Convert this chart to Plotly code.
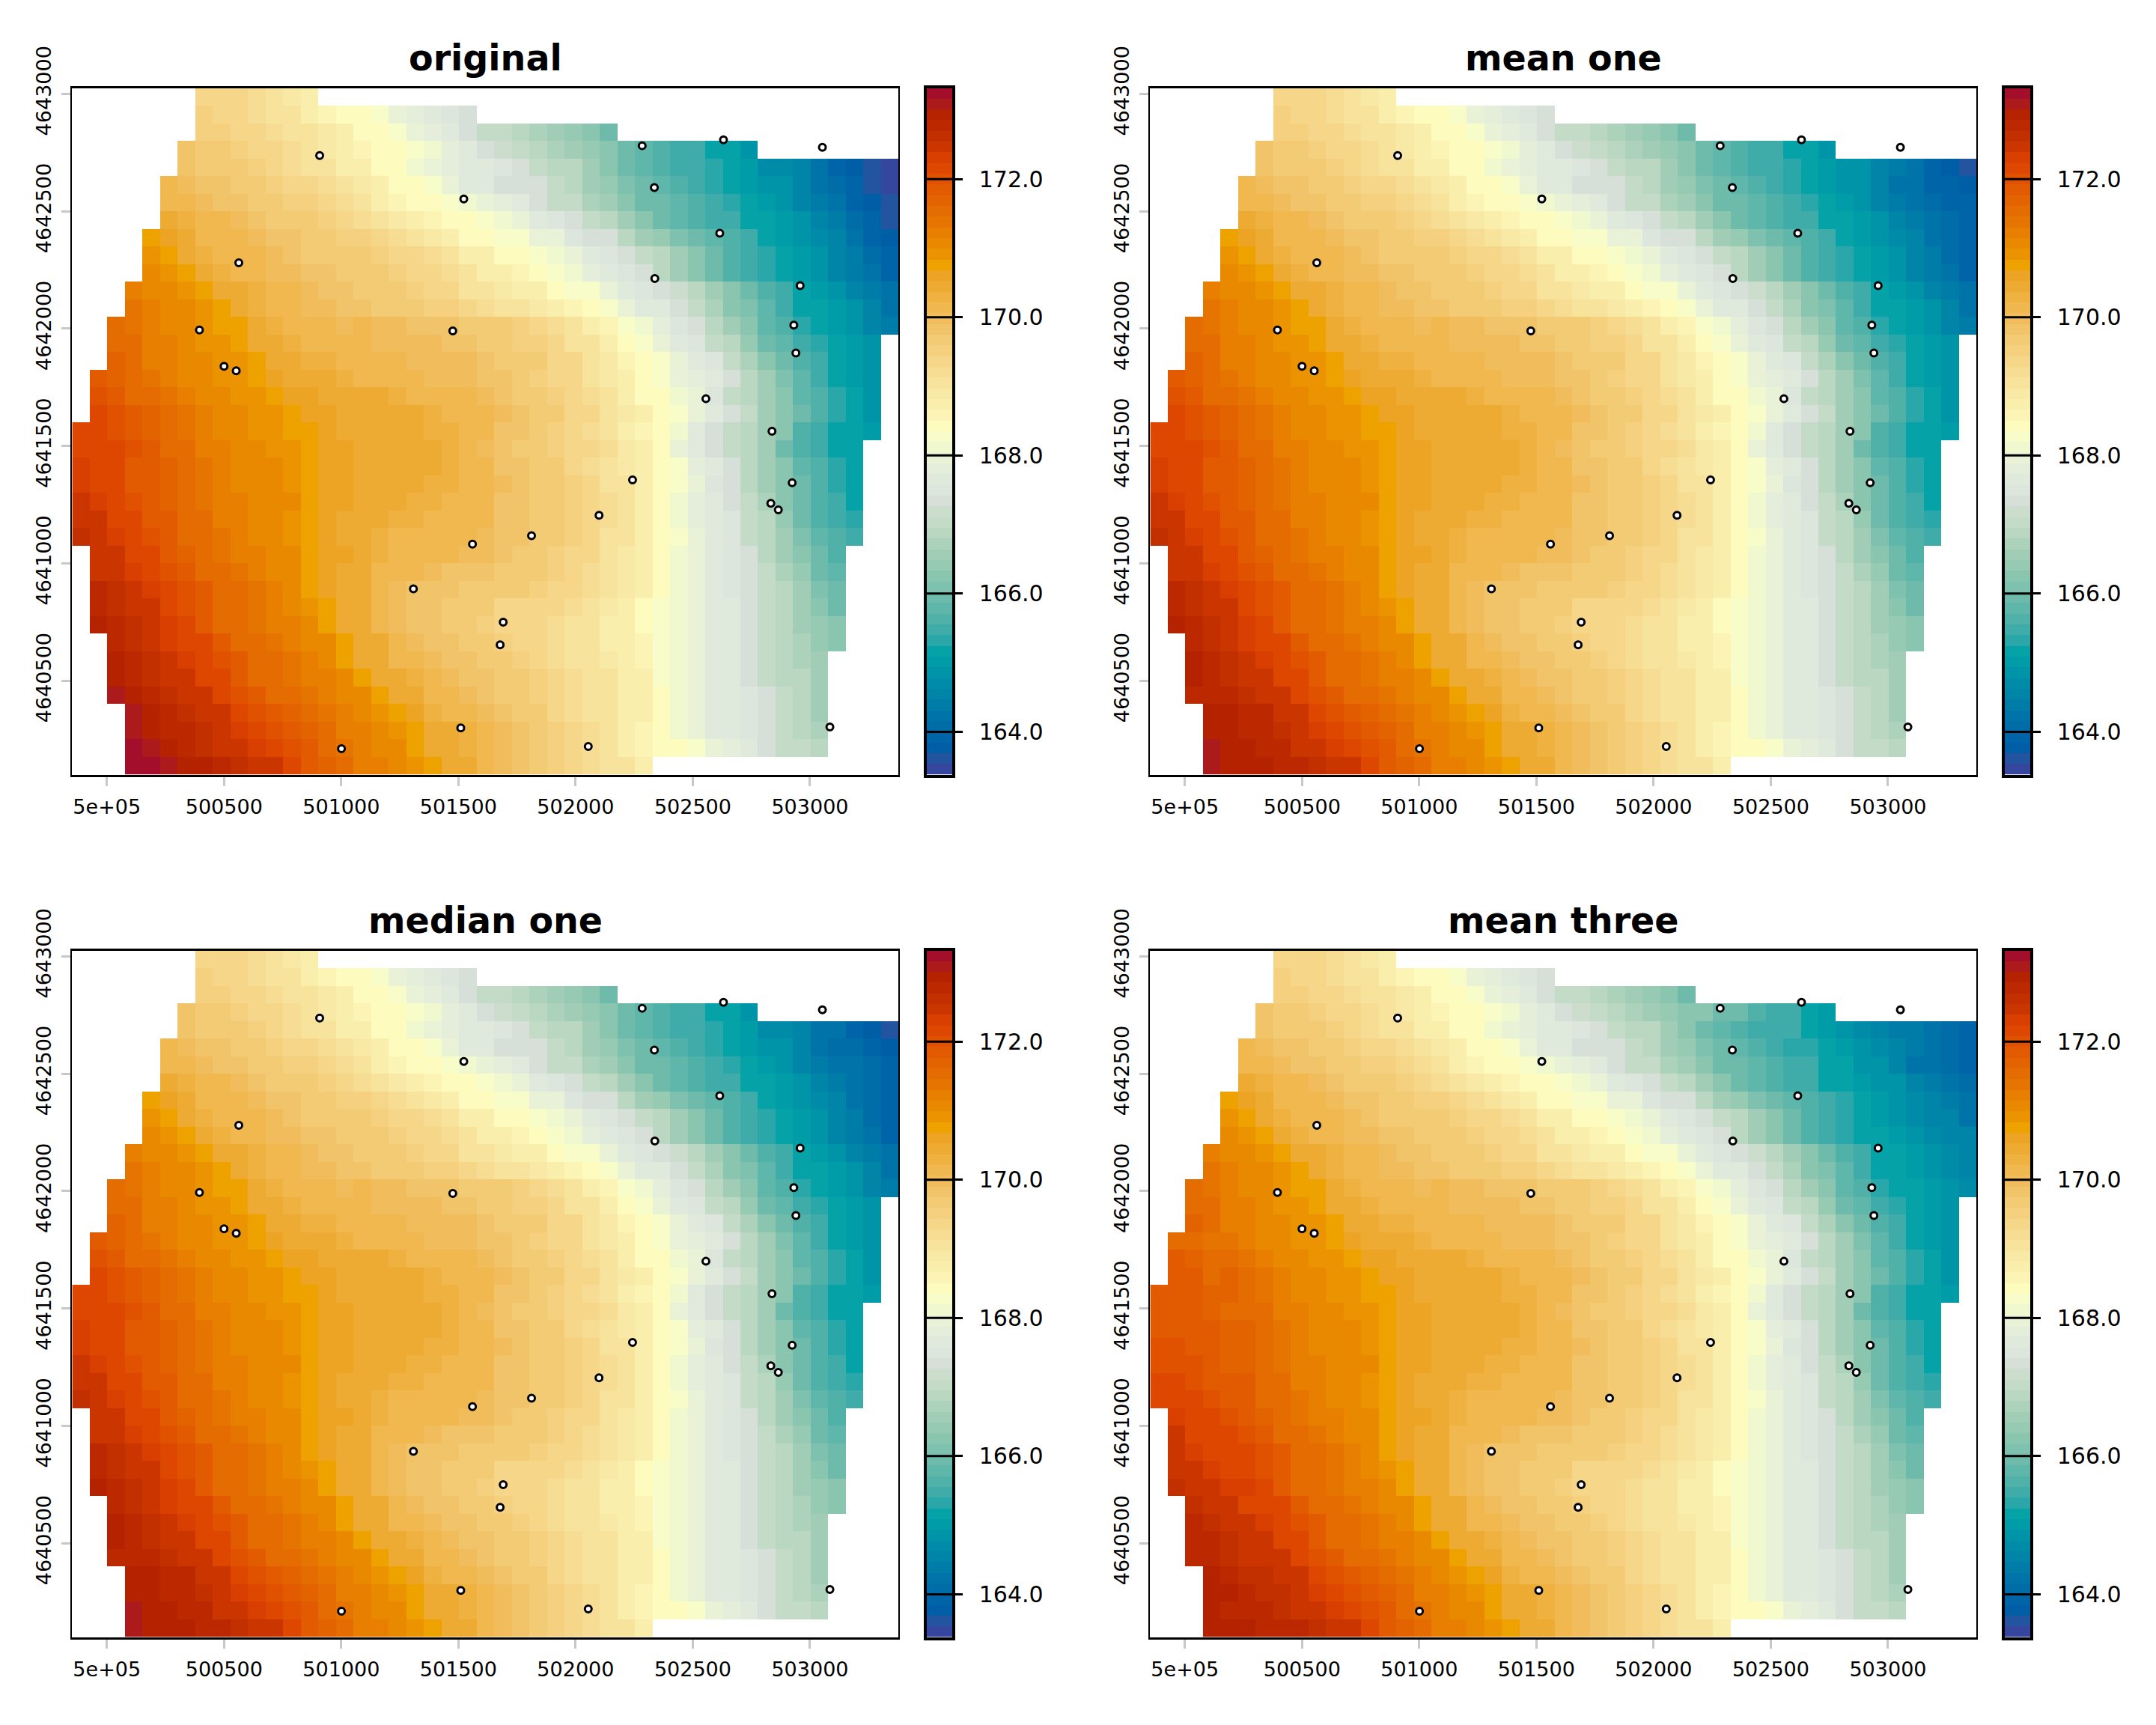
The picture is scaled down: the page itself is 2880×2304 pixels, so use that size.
import plotly.graph_objects as go

# Elevation surfaces on a 75 m raster, stored as tenths above 160 m.
# Each row (north to south) is (first filled column, cell values).
original_rows = [
 (7,[94,93,93,92,90,89,87]),
 (7,[95,94,94,92,91,90,88,86,85,84,82,80,78,76,75,73]),
 (7,[95,95,94,93,92,91,90,89,87,85,84,83,80,78,76,74,71,70,68,67,65,64,62,60]),
 (6,[98,97,96,95,94,93,92,90,89,88,86,85,84,82,81,78,76,74,72,70,69,67,66,64,63,60,58,57,55,54,52,51,49]),
 (6,[99,97,96,96,95,94,92,91,90,88,87,85,84,81,80,78,77,76,75,73,71,69,68,65,63,60,58,56,55,54,53,51,50,47,47,45,42,40,38,36,34]),
 (5,[101,100,99,98,97,96,95,94,93,92,91,89,87,85,84,82,80,77,76,74,73,73,71,69,66,64,61,59,58,56,54,53,51,50,49,48,46,43,41,39,36,34]),
 (5,[102,101,100,99,98,97,96,95,95,94,92,90,88,86,85,84,83,81,80,78,77,73,71,70,67,65,62,60,59,58,56,54,53,51,50,48,46,44,42,40,38,36]),
 (5,[104,103,102,101,100,99,97,97,96,95,94,92,90,89,87,86,85,84,82,81,79,76,75,73,70,68,65,63,60,58,57,55,54,52,51,50,48,46,44,41,39,36]),
 (4,[107,106,104,102,102,101,100,99,98,97,96,95,95,93,92,91,89,87,85,84,83,82,80,79,75,74,73,68,66,64,61,59,58,56,54,51,50,49,47,45,43,39,38]),
 (4,[109,107,105,103,102,101,101,100,99,97,97,96,96,95,94,94,92,90,88,87,85,84,83,81,79,77,75,73,71,68,65,62,60,57,55,53,51,50,48,46,44,41,40]),
 (4,[110,109,107,105,103,102,101,100,100,99,98,97,96,96,95,94,93,92,90,88,87,86,84,83,81,78,76,75,73,68,65,62,59,57,54,53,51,50,48,46,44,42,40]),
 (3,[112,111,110,109,107,105,104,103,101,101,100,99,98,97,96,96,95,94,93,91,90,89,88,87,85,83,82,79,77,75,74,72,68,66,63,60,57,55,51,50,48,46,44,43]),
 (3,[114,112,111,110,109,107,105,103,102,101,100,100,99,98,97,96,96,95,95,93,92,91,90,89,88,86,85,82,80,77,76,73,70,67,63,61,58,55,52,51,50,48,45,43]),
 (2,[115,114,113,111,110,109,107,107,105,103,102,102,101,100,101,100,100,99,99,98,97,97,96,95,94,92,90,88,86,82,81,78,75,74,69,66,62,58,56,53,51,50,48,46,44]),
 (2,[116,115,113,112,110,109,109,107,105,104,103,102,102,101,101,100,100,100,100,99,99,97,97,95,95,93,91,90,87,84,83,80,77,75,71,68,64,60,58,55,53,51,50,48]),
 (2,[117,115,113,112,111,110,109,109,107,105,104,103,103,102,102,101,101,100,100,100,100,98,97,96,96,94,93,90,89,86,84,82,80,77,75,71,67,63,60,57,54,51,50,48]),
 (1,[118,117,115,114,112,111,110,109,109,107,106,105,104,104,103,102,102,101,101,100,100,100,98,98,96,95,94,93,91,89,87,84,83,80,78,76,73,68,66,61,58,54,51,50,48]),
 (1,[120,119,116,115,114,112,111,110,109,109,107,106,106,105,104,104,104,103,102,102,102,101,100,99,97,97,95,94,92,90,88,84,84,81,79,75,71,68,65,62,58,56,53,51,48]),
 (1,[121,120,118,117,115,114,112,110,110,109,109,107,106,106,105,105,104,104,104,103,102,102,101,100,99,97,96,94,93,91,89,87,85,82,80,77,73,70,66,63,60,57,53,51,48]),
 (0,[122,122,120,119,117,115,114,113,111,110,109,109,107,107,106,105,105,105,104,104,103,103,102,101,98,98,96,95,94,92,90,88,86,84,81,77,74,71,68,65,62,57,55,52,51,50]),
 (0,[122,122,121,120,118,116,115,113,112,110,110,109,109,107,106,106,105,105,104,104,104,103,102,100,99,97,96,95,94,93,92,89,87,84,80,77,73,71,68,65,60,57,55,52,51]),
 (0,[123,122,122,119,118,117,115,114,112,111,110,110,109,107,106,106,105,105,104,104,104,103,102,101,99,98,97,96,94,92,91,89,87,84,82,78,76,73,69,66,62,58,56,53,51]),
 (0,[123,122,122,119,118,117,115,114,113,111,110,110,109,107,106,106,105,104,104,104,103,103,102,101,100,98,97,96,95,93,91,90,87,84,82,79,75,73,69,66,63,59,56,53,51]),
 (0,[124,123,122,120,118,117,115,114,113,112,111,110,110,107,106,106,105,104,104,103,103,102,102,101,99,98,97,96,95,93,92,90,88,84,81,78,76,73,70,67,63,59,57,54,51]),
 (0,[125,124,122,121,119,118,116,115,113,112,111,110,109,107,106,105,105,104,103,103,102,102,101,101,99,98,97,96,95,94,92,90,88,85,81,78,77,75,71,68,64,60,57,55,53]),
 (0,[126,125,123,122,120,119,116,115,114,112,111,110,109,107,106,105,105,103,102,102,102,101,101,100,99,98,96,96,95,93,91,90,87,85,82,79,77,75,71,68,65,61,58,56,54]),
 (1,[125,124,122,121,119,117,115,114,113,112,111,110,107,106,106,104,103,102,101,101,101,100,100,98,97,96,95,94,93,91,89,87,85,81,79,77,75,73,69,66,63,59,57]),
 (1,[125,125,123,122,120,118,116,115,114,112,111,110,107,106,105,104,102,101,101,100,99,99,98,97,97,96,95,94,92,91,89,87,84,81,79,77,75,73,70,67,64,60,58]),
 (1,[127,126,125,123,122,120,119,116,115,114,112,111,107,106,105,104,101,100,99,98,98,97,97,96,96,95,94,93,92,91,89,88,85,81,79,77,75,73,70,68,65,61,59]),
 (1,[127,126,125,124,122,120,118,116,115,114,112,111,109,107,105,104,102,100,99,98,97,96,96,94,94,94,93,92,90,89,87,85,83,81,79,77,76,73,70,68,65,63,60]),
 (1,[129,127,126,125,123,122,119,116,115,114,113,112,110,107,105,104,102,100,99,98,96,96,95,94,94,93,92,91,90,88,87,85,82,81,79,77,76,73,71,68,66,64,62]),
 (2,[127,126,125,123,122,121,119,116,115,114,113,111,110,107,105,104,102,100,99,98,96,96,95,94,93,92,91,90,88,87,86,82,81,79,77,76,73,71,68,67,64,62]),
 (2,[129,127,126,125,123,122,120,118,116,115,114,112,111,107,105,104,102,101,100,99,98,97,96,95,94,92,91,90,89,87,86,82,81,79,77,76,73,71,69,67,65]),
 (2,[129,128,126,125,124,122,121,119,116,115,114,113,112,110,107,105,104,103,101,100,99,98,97,96,95,93,92,91,90,88,87,82,81,79,77,76,74,71,69,68,66]),
 (2,[131,129,127,126,125,124,122,120,118,116,115,114,112,111,110,107,105,104,102,101,100,99,97,97,95,94,92,91,90,88,87,85,81,79,77,76,75,73,70,68,66]),
 (3,[131,129,127,126,125,124,122,120,119,117,115,114,112,110,109,107,106,103,102,102,100,99,97,96,94,92,91,90,88,87,85,81,79,77,76,75,73,71,69,66]),
 (3,[131,130,128,127,126,124,123,122,120,119,117,115,113,112,110,109,107,105,104,103,102,100,98,96,95,94,92,90,88,86,84,81,79,77,76,75,73,71,69,67]),
 (3,[132,131,129,128,126,125,124,123,122,120,118,116,114,112,111,110,107,105,104,103,102,100,98,96,95,94,92,90,88,86,84,84,83,80,78,76,74,71,71,69]),
 (3,[132,132,131,130,129,128,126,125,124,122,119,117,115,113,112,110,109,107,105,104,102,100,99,97,95,94,92,91,90,88]),
]

# Stretches that differ from the original surface: row -> (first column, values).
mean_one_rows = {
 4:(39,[49,48,46,44,42,40,38,36]), 5:(43,[42,40,39,38]), 6:(44,[41,40,39]),
 7:(44,[42,41,40]), 8:(44,[43,41,40]),
 34:(2,[128,128,127,126]), 35:(3,[129,129,128,127]), 36:(3,[129,129,128,127]),
 37:(3,[131,129,129,128,127]), 38:(3,[131,129,129,129,128,127]),
}
median_one_rows = {
 4:(43,[42,40,38,36]), 5:(44,[41,40,38]), 6:(44,[42,41,40]),
 7:(44,[43,41,40]), 8:(44,[43,41,40]),
 34:(2,[128,128,127,126]), 35:(3,[129,129,128,127]), 36:(3,[129,129,128,127]),
 37:(3,[131,129,129,128,127]), 38:(3,[131,130,130,129,128,127]),
}
mean_three_rows = {
 3:(31,[62,60,60,56,54,54,51,50]),
 4:(36,[54,51,50,49,47,46,44,44,43,41,40]),
 5:(37,[53,51,50,49,47,46,44,43,41,39]),
 6:(37,[54,51,51,49,48,45,43,42,41,40]),
 7:(38,[52,51,50,49,48,45,44,43,41]),
 8:(39,[53,51,50,49,47,45,44,42]),
 9:(40,[51,50,49,47,46,45,43]),
 10:(41,[51,50,49,47,46,45]), 11:(41,[52,51,50,49,47,46]),
 12:(42,[51,50,49,47,46]), 13:(43,[51,50,48,47]),
 16:(1,[116,116,114]), 17:(1,[118,117,116]), 18:(1,[118,118,116]),
 19:(0,[119,119,118,117]), 20:(0,[118,118,118,117,116]),
 21:(0,[119,119,119,118,117]), 22:(0,[120,120,119,118,117]),
 23:(0,[120,120,120,119,117]), 24:(0,[122,121,120,119,118]),
 25:(0,[122,122,121,120,119]), 26:(1,[123,122,121,120]),
 27:(1,[124,122,122,121]), 28:(1,[124,123,122,122]),
 29:(1,[125,124,123,122]), 30:(1,[126,125,124,123]),
 31:(2,[126,125,124,122]), 32:(2,[128,126,125,124]),
 33:(2,[128,127,126,124]), 34:(2,[128,128,126,125]),
 35:(3,[129,128,126,126]), 36:(3,[129,129,128,126]),
 37:(3,[129,128,128,127]), 38:(3,[130,129,129,128,127]),
}

panel_titles = ["original", "mean one", "median one", "mean three"]
panel_edits = [{}, mean_one_rows, median_one_rows, mean_three_rows]

# Sampling sites shown on every panel.
site_x = [500908,501523,502284,502631,503053,502336,502615,500563,502338,502958,500395,501476,
          502931,502940,500500,500552,502556,502838,502243,502924,502833,502865,502100,501812,
          501560,501308,501691,501678,501510,503085,502054,501001]
site_y = [4642737,4642552,4642779,4642804,4642772,4642601,4642406,4642280,4642213,4642183,4641994,4641990,
          4642015,4641896,4641839,4641820,4641701,4641563,4641355,4641343,4641256,4641228,4641205,4641118,
          4641082,4640891,4640749,4640653,4640299,4640303,4640220,4640210]

x_ticks = [500000,500500,501000,501500,502000,502500,503000]
x_tick_labels = ["5e+05","500500","501000","501500","502000","502500","503000"]
y_ticks = [4640500,4641000,4641500,4642000,4642500,4643000]
legend_ticks = [164,166,168,170,172]

# Legend colours from the highest elevation band down to the lowest.
band_colors = [
 "#A30F2B","#AD1A1B","#B52200","#BC2900","#C33000","#CB3600","#D93F00","#DD4700","#E05100","#E25B00","#E36300",
 "#E46C00","#E57400","#E87F00","#E98900","#EB9300","#EEA200","#EDA424","#EEAB33","#EFB140","#F0B84F","#F1BD5C",
 "#F2C469","#F3CB75","#F5D07F","#F6D789","#F7DD93","#F8E39D","#F9E9A6","#FAEEAD","#FCF4B4","#FEFBBE","#F8FCC8",
 "#F0F8D0","#E9F2D7","#E5EEDB","#E0EADC","#DCE6DC","#D6DFD8","#CCDDCD","#C3DBC7","#BAD7C2","#ADD2BB","#A1CDB7",
 "#96CAB3","#8AC6AF","#7EC1AE","#6EBBAC","#5FB6AA","#50B1A9","#3FACA9","#2AA7A8","#05A3A8","#009CA8","#0094A8",
 "#008CA8","#0084A8","#007CA8","#0074A8","#006CA8","#0064A8","#005EA6","#23549F","#35469E",
]
z_min, z_max = 163.38, 173.32
x_west, y_north, cell, n_cols, n_rows = 499852, 4643025, 75, 47, 39

n = len(band_colors)
colorscale = []
for i, c in enumerate(reversed(band_colors)):
    colorscale += [[i / n, c], [(i + 1) / n, c]]

x_cells = [x_west + cell * (i + 0.5) for i in range(n_cols)]
y_cells = [y_north - cell * (j + 0.5) for j in range(n_rows)]


def build_grid(edits):
    grid = []
    for r, (start, vals) in enumerate(original_rows):
        row = [None] * n_cols
        for k, v in enumerate(vals):
            row[start + k] = 160 + v / 10
        if r in edits:
            s2, new = edits[r]
            for k, v in enumerate(new):
                row[s2 + k] = 160 + v / 10
        grid.append(row)
    return grid


W, H = 2880, 2304
fig = go.Figure()
layout = dict(width=W, height=H, margin=dict(l=0, r=0, t=0, b=0, autoexpand=False), showlegend=False,
              paper_bgcolor="white", plot_bgcolor="white",
              font=dict(family="DejaVu Sans", color="black"))
annotations = []
band_step = (z_max - z_min) / n
band_mid = [z_min + band_step * (i + 0.5) for i in range(n)]

for p, title in enumerate(panel_titles):
    col, row = p % 2, p // 2
    dx, dy = col * 1440, row * 1152
    left, right, top, bottom = 96.4 + dx, 1200 + dx, 117.5 + dy, 1034.6 + dy
    bar_l, bar_r = 1237.5 + dx, 1272 + dx
    ax_id = 2 * p + 1
    xa, ya = f"x{ax_id}", f"y{ax_id}"
    xb, yb = f"x{ax_id + 1}", f"y{ax_id + 1}"

    fig.add_trace(go.Heatmap(x=x_cells, y=y_cells, z=build_grid(panel_edits[p]), zmin=z_min, zmax=z_max,
                             colorscale=colorscale, showscale=False, xaxis=xa, yaxis=ya, hoverongaps=False))
    fig.add_trace(go.Scatter(x=site_x, y=site_y, mode="markers", xaxis=xa, yaxis=ya,
                             marker=dict(size=9, color="white", line=dict(color="black", width=3))))
    fig.add_trace(go.Heatmap(x=[0.5], y=band_mid, z=[[v] for v in band_mid], zmin=z_min, zmax=z_max,
                             colorscale=colorscale, showscale=False, xaxis=xb, yaxis=yb))
    # Tick marks run across the legend strip.
    tx, ty = [], []
    for t in legend_ticks:
        tx += [0, 1, None]
        ty += [t, t, None]
    fig.add_trace(go.Scatter(x=tx, y=ty, mode="lines", line=dict(color="black", width=3),
                             xaxis=xb, yaxis=yb, cliponaxis=False))

    suffix = "" if ax_id == 1 else str(ax_id)
    layout["xaxis" + suffix] = dict(
        domain=[left / W, right / W], range=[x_west, x_west + cell * n_cols], anchor=ya,
        tickmode="array", tickvals=x_ticks, ticktext=x_tick_labels, ticks="outside", ticklen=12,
        tickwidth=3, tickcolor="#C8C8C8", tickfont=dict(size=27), ticklabelstandoff=5,
        showgrid=False, zeroline=False, showline=True, mirror=True, linecolor="black", linewidth=3)
    layout["yaxis" + suffix] = dict(
        domain=[1 - bottom / H, 1 - top / H], range=[y_north - cell * n_rows, y_north], anchor=xa,
        tickmode="array", tickvals=y_ticks, ticktext=[str(v) for v in y_ticks], tickangle=-90,
        ticks="outside", ticklen=12, tickwidth=3, tickcolor="#C8C8C8", tickfont=dict(size=27),
        ticklabelstandoff=4, showgrid=False, zeroline=False, showline=True, mirror=True,
        linecolor="black", linewidth=2)
    layout["xaxis" + str(ax_id + 1)] = dict(
        domain=[bar_l / W, bar_r / W], range=[0, 1], anchor=yb, showticklabels=False, ticks="",
        showgrid=False, zeroline=False, showline=True, mirror=True, linecolor="black", linewidth=3.5)
    layout["yaxis" + str(ax_id + 1)] = dict(
        domain=[1 - bottom / H, 1 - top / H], range=[z_min, z_max], anchor=xb, side="right",
        tickmode="array", tickvals=legend_ticks, ticktext=[f"{t:.1f}" for t in legend_ticks],
        ticks="outside", ticklen=10, tickwidth=3, tickcolor="black", tickfont=dict(size=30),
        ticklabelstandoff=16, showgrid=False, zeroline=False, showline=True, mirror=True,
        linecolor="black", linewidth=3.5)
    annotations.append(dict(text=f"<b>{title}</b>", xref="paper", yref="paper", showarrow=False,
                            x=(left + right) / 2 / W, y=1 - (top - 40) / H, xanchor="center", yanchor="middle",
                            font=dict(size=47.5, family="DejaVu Sans", color="black")))

layout["annotations"] = annotations
fig.update_layout(**layout)
fig.write_html("out.html")
